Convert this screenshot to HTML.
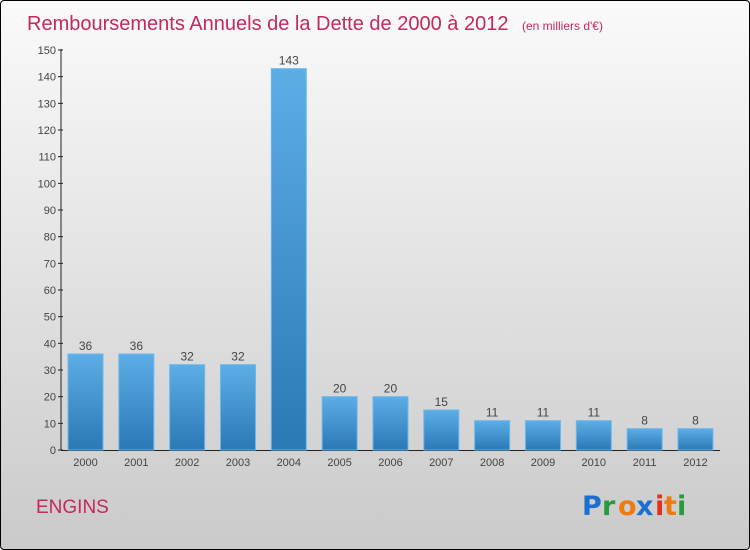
<!DOCTYPE html>
<html><head><meta charset="utf-8"><style>
html,body{margin:0;padding:0}
body{width:750px;height:550px;overflow:hidden;font-family:"Liberation Sans",sans-serif}
#frame{position:absolute;left:0;top:0;width:748px;height:548px;border:1px solid #000;border-radius:4px;background:linear-gradient(#fafafa,#cacaca)}
</style></head><body>
<div id="frame">
<svg width="750" height="550" style="position:absolute;left:-1px;top:-1px">
<defs>
<linearGradient id="bg" x1="0" y1="0" x2="0" y2="1"><stop offset="0" stop-color="#5dade6"/><stop offset="1" stop-color="#2a79b5"/></linearGradient>
</defs>
<text x="27" y="30" font-size="20" fill="#c3285e">Remboursements Annuels de la Dette de 2000 à 2012 <tspan font-size="12" dx="8">(en milliers d'€)</tspan></text>
<g id="yaxis"></g>
<g id="bars"></g>
<text x="36" y="513" font-size="19" fill="#c3285e">ENGINS</text>
<g font-size="27" font-weight="bold" font-family="'DejaVu Sans',sans-serif">
<text x="582" y="515" fill="#1a6fd0">P</text><text x="602" y="515" fill="#2a9a3a">r</text><text x="618" y="515" fill="#f07a10">o</text><text x="636" y="515" fill="#1a6fd0">x</text><text x="655" y="515" fill="#e03020">i</text><text x="664" y="515" fill="#f07a10">t</text><text x="677" y="515" fill="#2a9a3a">i</text>
</g>
</svg>
</div>
<script>
const categories=["2000","2001","2002","2003","2004","2005","2006","2007","2008","2009","2010","2011","2012"];
const values=[36,36,32,32,143,20,20,15,11,11,11,8,8];
const yTicks=[0,10,20,30,40,50,60,70,80,90,100,110,120,130,140,150];
const NS="http://www.w3.org/2000/svg";
const y0=450,yTop=50,yMax=150;
const y=v=>y0-(v/yMax)*(y0-yTop);
const x=i=>85.5+i*50.83;
function mk(t,a,p){const e=document.createElementNS(NS,t);for(const k in a)e.setAttribute(k,a[k]);p.appendChild(e);return e;}
const ya=document.getElementById('yaxis');
mk('line',{x1:61,y1:y0,x2:61,y2:yTop-1,stroke:'#222','stroke-width':1},ya);
mk('line',{x1:61,y1:y0+0.5,x2:720,y2:y0+0.5,stroke:'#222','stroke-width':1},ya);
yTicks.forEach(t=>{
 const l=mk('line',{x1:58,y1:y(t),x2:63,y2:y(t),stroke:'#222'},ya);
 
 
 const tx=mk('text',{x:56,y:y(t)+4,'font-size':11,'text-anchor':'end',fill:'#444'},ya);
 tx.textContent=t;
 
 
});
const bg=document.getElementById('bars');
categories.forEach((c,i)=>{
 const v=values[i];
 const r=mk('rect',{x:x(i)-17.5,y:y(v),width:35,height:y0-y(v),fill:'url(#bg)',stroke:'#6ab8ee','stroke-width':1},bg);
 
 
 const vl=mk('text',{x:x(i),y:y(v)-4,'font-size':12,'text-anchor':'middle',fill:'#444'},bg);
 vl.textContent=v;
 
 
 const xl=mk('text',{x:x(i),y:466,'font-size':11,'text-anchor':'middle',fill:'#444'},bg);
 xl.textContent=c;
 
 
});
</script>
</body></html>
